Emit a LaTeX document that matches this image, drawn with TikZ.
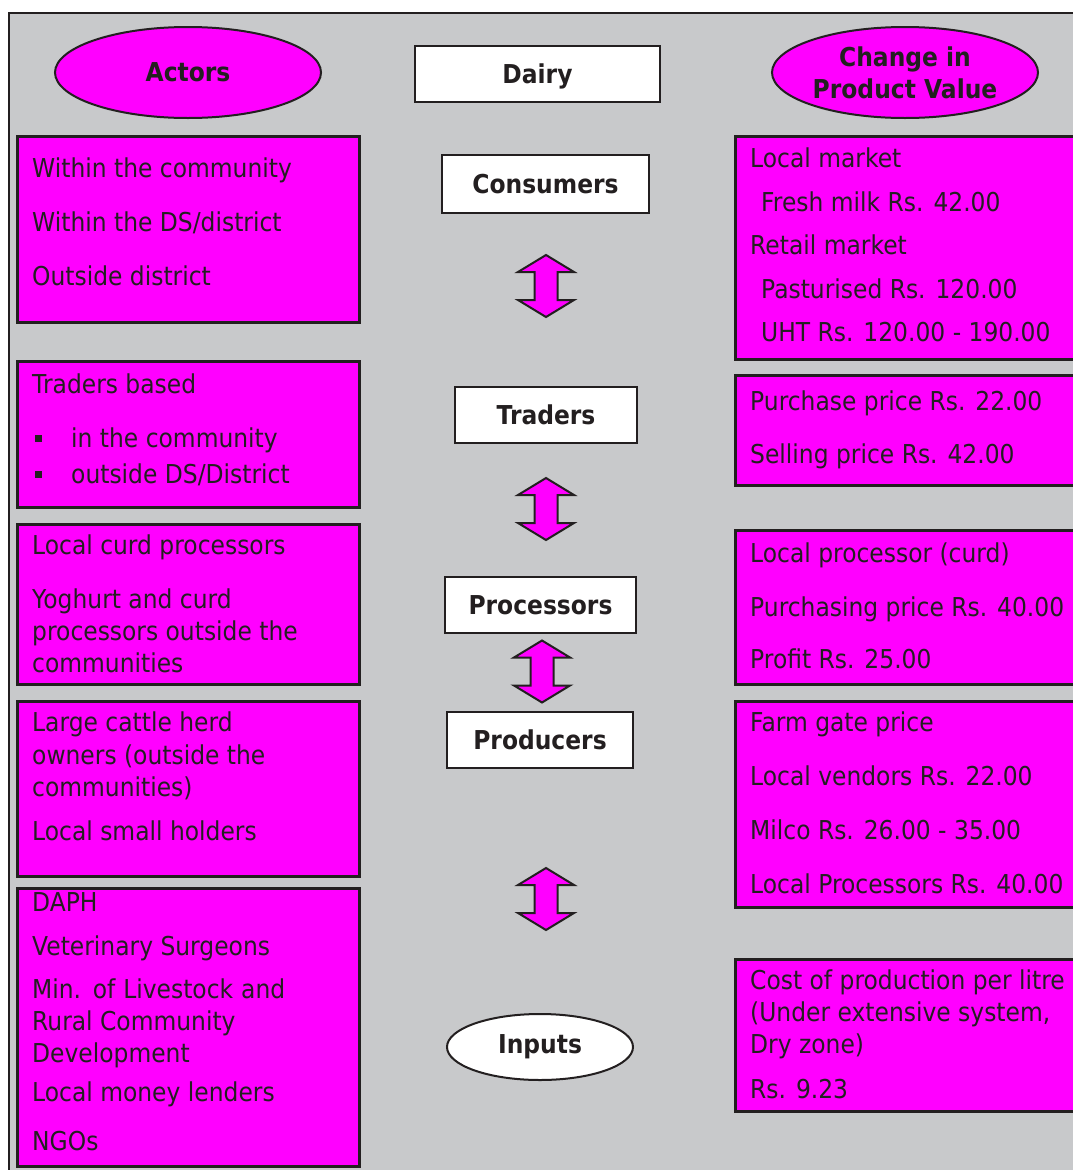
\documentclass[tikz,border=0pt]{standalone}
\usepackage{fontspec}
\setmainfont{DejaVu Sans}[FakeStretch=0.9]
\usetikzlibrary{shapes.geometric}
\definecolor{ink}{HTML}{231F20}
\definecolor{panel}{HTML}{C8C9CB}
\definecolor{mag}{HTML}{FF00FF}

\tikzset{
  txt/.style={anchor=base west, inner sep=0pt, text=ink, font=\fontsize{26}{32}\selectfont},
  magbox/.style={draw=ink, line width=2.5pt, fill=mag, anchor=north west, inner sep=0pt},
  stage/.style={draw=ink, line width=2pt, fill=white, inner sep=0pt, text=ink,
    text height=19pt, text depth=0pt, font=\bfseries\fontsize{26}{32}\selectfont},
  oval/.style={ellipse, draw=ink, line width=2pt, inner sep=0pt, text=ink, align=center,
    font=\bfseries\fontsize{26}{32}\selectfont},
  dblarrow/.pic={
    \filldraw[fill=mag, draw=ink, line width=2pt, line join=miter]
      (0,-31) -- (28,-14) -- (11.5,-14) -- (11.5,14) -- (28,14) -- (0,31)
      -- (-28,14) -- (-11.5,14) -- (-11.5,-14) -- (-28,-14) -- cycle;
  },
}

\begin{document}
\begin{tikzpicture}[x=1pt,y=-1pt]
\useasboundingbox (0,0) rectangle (1073,1170);
\clip (0,0) rectangle (1073,1170);

% grey panel behind everything
\path[fill=panel, draw=ink, line width=2pt] (9,13) rectangle (1110,1210);

% column headings
\node[oval, fill=mag, minimum width=266, minimum height=91] (actors) at (188,72.5) {Actors};
\node[oval, fill=mag, minimum width=266, minimum height=91] (change) at (905,72.5) {Change in\\Product Value};
\node[stage, minimum width=245, minimum height=56] (dairy) at (537.5,74) {Dairy};

% value chain stages
\node[stage, minimum width=207, minimum height=58] (consumers) at (545.5,184) {Consumers};
\node[stage, minimum width=182, minimum height=56] (traders) at (546,415) {Traders};
\node[stage, minimum width=191, minimum height=56] (processors) at (540.5,605) {Processors};
\node[stage, minimum width=186, minimum height=56] (producers) at (540,740) {Producers};
\node[oval, fill=white, minimum width=186, minimum height=66] (inputs) at (540,1047) {Inputs};

% two-way flow between stages
\pic at (546,286) {dblarrow};
\pic at (546,509) {dblarrow};
\pic at (542,671.5) {dblarrow};
\pic at (546,899) {dblarrow};

% actors column
\node[magbox, minimum width=342, minimum height=186] (act1) at (16,135) {};
\node[magbox, minimum width=342, minimum height=146] (act2) at (16,360) {};
\node[magbox, minimum width=342, minimum height=160] (act3) at (16,523) {};
\node[magbox, minimum width=342, minimum height=175] (act4) at (16,700) {};
\node[magbox, minimum width=342, minimum height=278] (act5) at (16,887) {};

\foreach \y/\t [count=\i] in {177/{Within the community}, 231/{Within the DS/district}, 285/{Outside district}}
  \node[txt] (a1-\i) at (32,\y) {\t};

\node[txt] (a2-1) at (32,393) {Traders based};
\fill[ink] (34.5,435) rectangle (41.5,442);
\fill[ink] (34.5,471) rectangle (41.5,478);
\node[txt] (a2-2) at (71,447) {in the community};
\node[txt] (a2-3) at (71,483) {outside DS/District};

\foreach \y/\t [count=\i] in {554/{Local curd processors}, 608/{Yoghurt and curd}, 640/{processors outside the}, 672.5/{communities}}
  \node[txt] (a3-\i) at (32,\y) {\t};

\foreach \y/\t [count=\i] in {731.7/{Large cattle herd}, 764/{owners (outside the}, 796/{communities)}, 840.7/{Local small holders}}
  \node[txt] (a4-\i) at (32,\y) {\t};

\foreach \y/\t [count=\i] in {911.7/{DAPH}, 955/{Veterinary Surgeons}, 998.3/{\makebox[253pt][s]{Min. of Livestock and}}, 1030.7/{Rural Community}, 1062.7/{Development}, 1101.7/{Local money lenders}, 1150/{NGOs}}
  \node[txt] (a5-\i) at (32,\y) {\t};

% product value column
\node[magbox, minimum width=352, minimum height=223] (val1) at (734,135) {};
\node[magbox, minimum width=352, minimum height=110] (val2) at (734,374) {};
\node[magbox, minimum width=352, minimum height=154] (val3) at (734,529) {};
\node[magbox, minimum width=352, minimum height=206] (val4) at (734,700) {};
\node[magbox, minimum width=352, minimum height=152] (val5) at (734,958) {};

\foreach \x/\y/\t [count=\i] in {750/167.7/{Local market}, 761/211.7/{Fresh milk Rs. 42.00}, 750/254.3/{Retail market}, 761/298.3/{Pasturised Rs. 120.00}, 761/341.7/{UHT Rs. 120.00 - 190.00}}
  \node[txt] (v1-\i) at (\x,\y) {\t};

\foreach \y/\t [count=\i] in {410/{Purchase price Rs. 22.00}, 463/{Selling price Rs. 42.00}}
  \node[txt] (v2-\i) at (750,\y) {\t};

\foreach \y/\t [count=\i] in {562.7/{Local processor (curd)}, 616/{Purchasing price Rs. 40.00}, 668.3/{Profit Rs. 25.00}}
  \node[txt] (v3-\i) at (750,\y) {\t};

\foreach \y/\t [count=\i] in {731.7/{Farm gate price}, 785.7/{Local vendors Rs. 22.00}, 839.3/{Milco Rs. 26.00 - 35.00}, 893.3/{Local Processors Rs. 40.00}}
  \node[txt] (v4-\i) at (750,\y) {\t};

\foreach \y/\t [count=\i] in {989/{Cost of production per litre}, 1021.3/{(Under extensive system,}, 1053.6/{Dry zone)}, 1098.3/{Rs. 9.23}}
  \node[txt] (v5-\i) at (750,\y) {\t};

\end{tikzpicture}
\end{document}
